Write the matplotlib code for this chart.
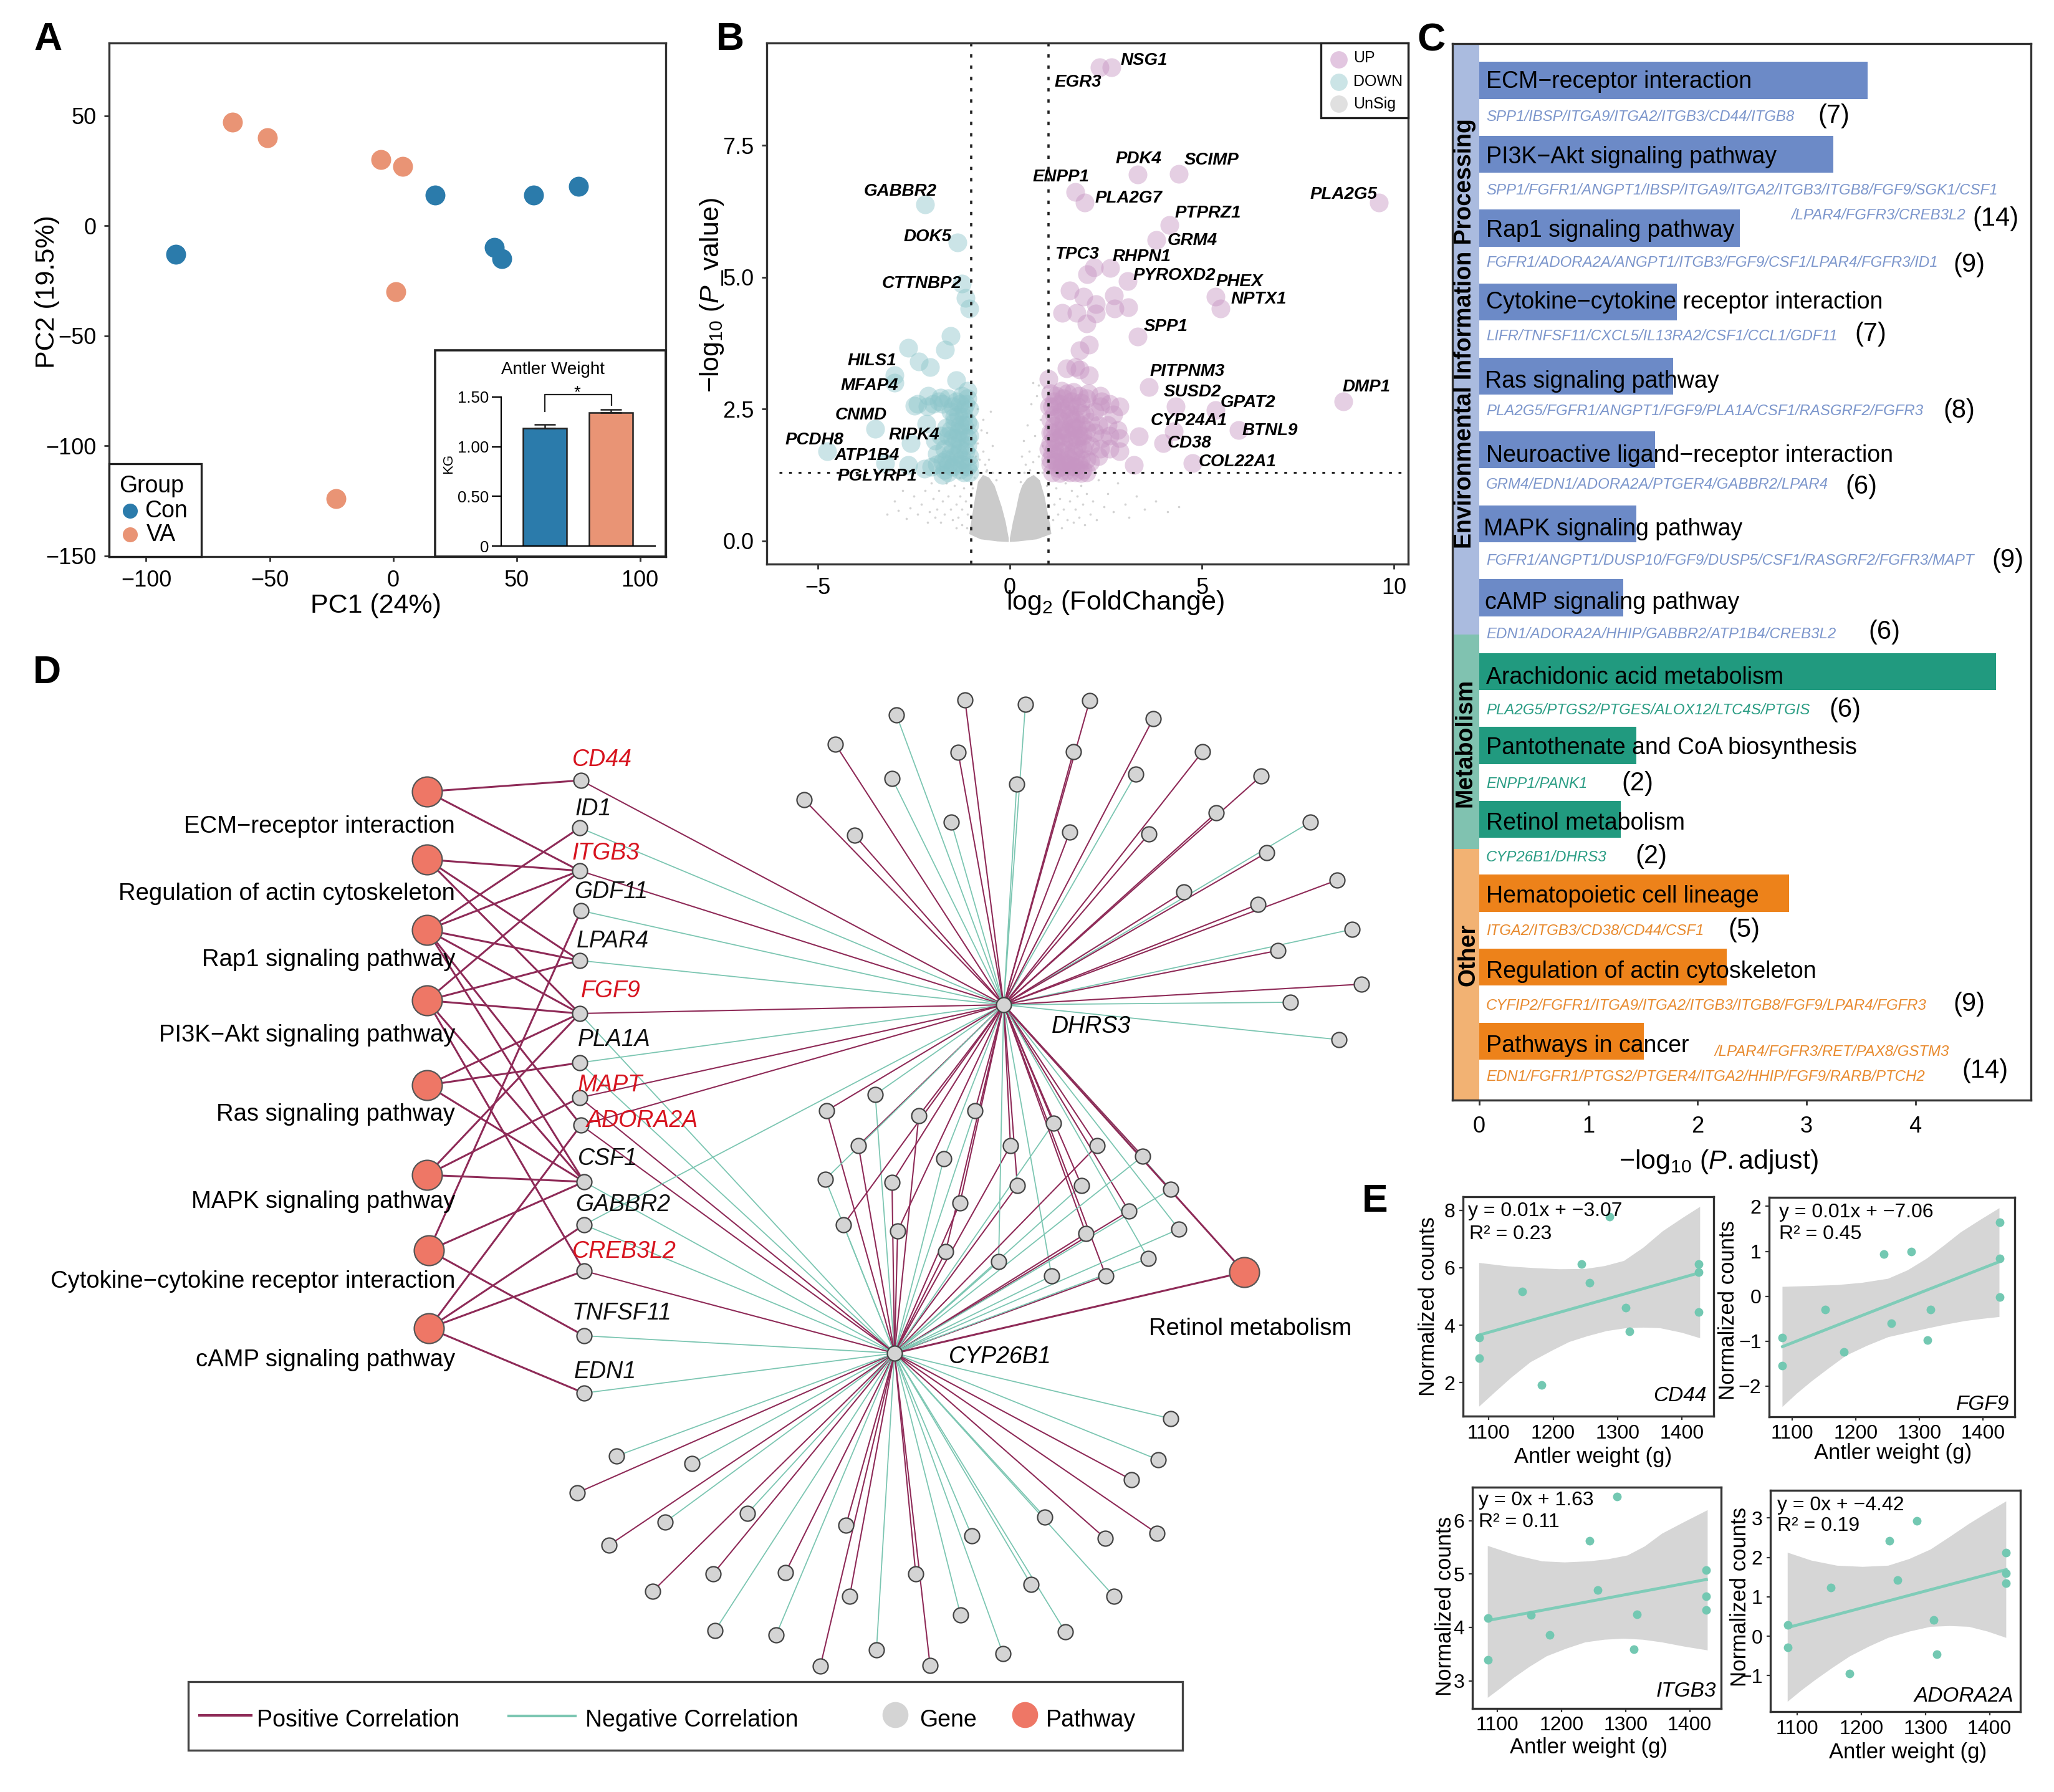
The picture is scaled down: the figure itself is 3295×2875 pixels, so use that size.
# plot.py
import matplotlib
matplotlib.use('Agg')
import numpy as np
import matplotlib.pyplot as plt
from matplotlib.patches import Rectangle

W, H = 3295, 2875

plt.rcParams['font.family'] = ['Liberation Sans', 'DejaVu Sans']
plt.rcParams['mathtext.fontset'] = 'custom'
plt.rcParams['mathtext.rm'] = 'Liberation Sans'
plt.rcParams['mathtext.it'] = 'Liberation Sans:italic'
plt.rcParams['mathtext.bf'] = 'Liberation Sans:bold'
plt.rcParams['mathtext.default'] = 'regular'

BLUE = '#2b7bab'
ORANGE = '#e99475'
POS = '#8e2a57'
NEG = '#7cc6b2'
EDGE = '#333333'

# ---- panel A ----
con_x = [-88, 17, 57, 75, 41, 44]
con_y = [-13, 14, 14, 18, -10, -15]
va_x = [-65, -51, -5, 4, 1, -23]
va_y = [47, 40, 30, 27, -30, -124]
inset_groups = [0, 1]
inset_means = [1.186, 1.34]
inset_errs = [0.04, 0.036]
inset_ticks = [0, 0.5, 1.0, 1.5]
inset_tick_labels = ['0', '0.50', '1.00', '1.50']

# ---- panel B ----
up_names = ['NSG1', 'EGR3', 'PDK4', 'SCIMP', 'ENPP1', 'PLA2G7', 'PLA2G5', 'PTPRZ1', 'GRM4', 'TPC3',
            'RHPN1', 'PYROXD2', 'PHEX', 'NPTX1', 'SPP1', 'PITPNM3', 'SUSD2', 'GPAT2', 'DMP1',
            'CYP24A1', 'BTNL9', 'CD38', 'COL22A1']
up_label_x = [1835, 1729, 1826, 1944, 1702, 1810, 2155, 1938, 1913, 1727,
              1831, 1884, 1988, 2019, 1870, 1905, 1913, 2002, 2192, 1907, 2037, 1908, 1985]
up_label_y = [97, 132, 255, 257, 284, 318, 312, 342, 386, 408,
              412, 442, 452, 480, 524, 596, 629, 646, 621, 675, 691, 711, 741]
down_names = ['GABBR2', 'DOK5', 'CTTNBP2', 'HILS1', 'MFAP4', 'CNMD', 'RIPK4', 'PCDH8', 'ATP1B4', 'PGLYRP1']
down_label_x = [1444, 1488, 1479, 1399, 1395, 1381, 1466, 1306, 1391, 1407]
down_label_y = [307, 380, 455, 579, 619, 666, 698, 706, 731, 764]

up_x = [2.65, 2.33, 3.33, 4.40, 1.71, 1.95, 9.61, 4.15, 3.82, 2.19, 2.01, 2.62, 3.06, 5.35, 5.49,
        1.55, 1.92, 2.71, 2.24, 1.37, 1.74, 2.73, 3.08, 2.24, 1.99, 3.32, 2.06, 1.82, 1.48, 1.71,
        1.82, 2.06, 1.01, 3.62, 8.68, 4.31, 5.35, 4.27, 5.95, 3.99, 4.75, 3.23, 3.36,
        1.05, 1.2, 1.35, 1.5, 1.65, 1.8, 2.0, 1.1, 1.3, 1.45, 1.6, 1.75, 1.95,
        1.05, 1.25, 1.4, 1.55, 1.7, 1.85, 1.1, 1.3, 1.5, 1.65, 1.8, 2.0,
        1.05, 1.2, 1.4, 1.6, 1.75, 1.9, 1.1, 1.3, 1.5, 1.65, 1.85,
        1.05, 1.2, 1.35, 1.5, 1.7, 1.9, 2.0, 1.1, 1.3, 1.55,
        2.35, 2.38, 2.35, 2.2, 2.6, 2.85, 2.7, 2.1, 2.3, 2.55, 2.8, 2.2, 2.4, 2.6, 2.85,
        2.1, 2.35, 2.6, 2.85, 2.3, 2.1, 2.0,
        1.15, 1.4, 1.55, 1.85, 2.05, 1.15, 1.35, 1.6, 1.85, 1.15, 1.4, 1.6, 1.75, 1.9,
        1.15, 1.35, 1.55, 1.75, 1.95, 1.15, 1.45, 1.7, 1.55, 1.2, 1.4, 1.6, 1.8,
        1.25, 1.45, 1.7, 1.85, 1.05, 1.05, 1.02, 1.0]
up_y = [8.98, 8.98, 6.95, 6.96, 6.61, 6.41, 6.41, 5.99, 5.71, 5.19, 5.06, 5.17, 4.92, 4.63, 4.41,
        4.75, 4.63, 4.65, 4.49, 4.32, 4.32, 4.40, 4.43, 4.31, 4.12, 3.87, 3.72, 3.61, 3.27, 3.29,
        3.25, 3.14, 3.07, 2.92, 2.64, 2.55, 2.48, 2.08, 2.10, 1.85, 1.48, 1.44, 1.98,
        2.80, 2.75, 2.85, 2.8, 2.82, 2.75, 2.7, 2.55, 2.6, 2.5, 2.65, 2.55, 2.4,
        2.3, 2.35, 2.25, 2.4, 2.3, 2.2, 2.05, 2.1, 2.05, 2.15, 2.0, 2.1,
        1.85, 1.9, 1.85, 1.9, 1.8, 1.75, 1.65, 1.7, 1.6, 1.7, 1.55,
        1.45, 1.5, 1.4, 1.45, 1.4, 1.35, 1.3, 1.3, 1.28, 1.3,
        2.75, 2.65, 2.55, 2.45, 2.6, 2.55, 2.4, 2.25, 2.2, 2.2, 2.1, 2.05, 1.95, 2.0, 1.95,
        1.8, 1.75, 1.75, 1.7, 1.6, 1.5, 1.55,
        2.65, 2.7, 2.55, 2.62, 2.8, 2.4, 2.45, 2.3, 2.42, 2.18, 2.1, 2.2, 2.12, 2.0,
        1.95, 2.0, 1.95, 1.95, 1.85, 1.75, 1.72, 1.6, 1.55, 1.6, 1.5, 1.42, 1.45,
        1.38, 1.32, 1.3, 1.28, 1.55, 2.05, 2.55, 1.75]
down_x = [-2.20, -1.36, -1.25, -1.15, -1.05, -1.54, -1.69, -2.64, -2.37, -2.07, -3.0, -1.39, -3.0,
          -1.10, -2.13, -1.81, -2.49, -3.5, -4.76, -3.24, -2.58, -2.64, -2.23, -2.17,
          -1.1, -1.25, -1.4, -1.6, -1.75, -1.05, -1.2, -1.35, -1.55, -1.1, -1.3, -1.45, -1.65,
          -1.05, -1.2, -1.4, -1.6, -1.8, -1.95, -1.1, -1.3, -1.5, -1.7, -1.9, -1.05, -1.25, -1.45, -1.65,
          -1.1, -1.3, -1.5, -1.7, -1.9, -2.05, -1.2, -1.6, -1.05, -1.75,
          -1.15, -1.3, -1.5, -1.2, -1.45, -1.05, -1.2, -1.35, -1.55, -1.1, -1.3, -1.5, -1.15,
          -1.35, -1.55, -1.75, -1.05, -1.25, -1.45, -1.6, -2.15, -2.4, -2.0, -1.85]
down_y = [6.38, 5.66, 4.88, 4.61, 4.41, 3.89, 3.62, 3.66, 3.40, 3.30, 3.14, 3.05, 3.0,
          2.85, 2.75, 2.72, 2.56, 2.13, 1.70, 1.48, 1.85, 1.44, 1.37, 2.22,
          2.7, 2.75, 2.65, 2.7, 2.6, 2.5, 2.5, 2.4, 2.45, 2.25, 2.2, 2.25, 2.15,
          2.0, 2.05, 1.95, 2.0, 2.0, 1.9, 1.8, 1.75, 1.8, 1.75, 1.65, 1.6, 1.55, 1.6, 1.55,
          1.4, 1.35, 1.4, 1.35, 1.45, 1.4, 1.3, 1.3, 1.3, 1.25,
          2.6, 2.6, 2.55, 2.35, 2.35, 2.2, 2.2, 2.05, 2.1, 1.95, 1.9, 1.95, 1.7,
          1.65, 1.65, 1.5, 1.45, 1.45, 1.45, 1.45, 2.55, 2.6, 2.6, 2.65]
unsig_left_x = [-0.03, -0.11, -0.21, -0.32, -0.40, -0.54, -0.70, -0.83, -0.91, -0.98, -1.06, -0.76, -0.32, -0.03]
unsig_left_y = [0.05, 0.36, 0.64, 0.88, 1.05, 1.20, 1.25, 1.12, 0.80, 0.48, 0.13, 0.03, -0.01, -0.02]
unsig_right_x = [0, 0.08, 0.16, 0.24, 0.32, 0.45, 0.62, 0.78, 0.90, 0.98, 1.05, 1.08, 0.70, 0.22, 0]
unsig_right_y = [0.05, 0.36, 0.60, 0.88, 1.05, 1.18, 1.25, 1.15, 0.85, 0.55, 0.30, 0.13, 0.03, -0.01, -0.02]
unsig_x = [-1.1, -1.15, -1.2, -1.25, -1.3, -1.35, -1.4, -1.45, -1.5, -1.55, -1.6, -1.65, -1.7, -1.75, -1.8, -1.85,
           -1.9, -1.95, -2.0, -2.1, -2.15, -2.2, -2.3, -2.4, -2.5, -2.6, -2.7, -2.8, -2.9, -3.0, -3.2,
           -1.25, -1.12, -1.4, -2.05, -1.3,
           1.12, 1.15, 1.2, 1.25, 1.3, 1.35, 1.4, 1.45, 1.5, 1.55, 1.6, 1.65, 1.7, 1.75, 1.8, 1.85,
           1.9, 1.95, 2.0, 2.1, 2.15, 2.25, 2.3, 2.45, 2.55, 2.7, 2.8, 3.0, 3.1, 3.3, 3.5, 3.8, 4.1, 4.4,
           -0.95, -0.9, -0.85, -0.8, -0.75, -0.7, -0.65, -0.6, -0.55, -0.5, -0.7, -0.95, -0.85, -0.45, -0.6,
           0.3, 0.35, 0.4, 0.45, 0.5, 0.55, 0.6, 0.65, 0.7, 0.75, 0.8, 0.85, 0.9, 0.95, 0.6, 0.75,
           -0.98, -0.92, -0.62, -0.45, -0.35, 0.28, 0.38, 0.52, 0.85, 0.95]
unsig_y = [0.5, 0.75, 1.0, 0.6, 0.85, 0.45, 0.7, 1.05, 0.4, 0.6, 0.85, 1.1, 0.5, 0.75, 0.35, 0.95,
           0.6, 0.45, 0.8, 0.55, 0.35, 0.95, 0.7, 0.5, 0.85, 0.62, 0.42, 0.95, 0.58, 0.75, 0.5,
           0.3, 0.25, 0.25, 1.1, 1.2,
           0.4, 0.7, 1.0, 0.5, 0.8, 0.25, 0.6, 1.1, 0.4, 0.75, 0.95, 0.35, 0.6, 0.85, 0.45, 1.05,
           0.7, 0.3, 0.9, 0.5, 0.75, 0.4, 1.15, 0.65, 0.9, 0.55, 1.1, 0.7, 0.45, 0.85, 0.6, 0.75, 0.55, 0.65,
           1.35, 1.6, 1.85, 1.55, 2.1, 1.7, 1.45, 2.05, 1.55, 2.45, 2.3, 2.2, 2.5, 1.8, 1.35,
           1.6, 1.9, 1.45, 2.2, 1.7, 2.6, 1.5, 2.0, 2.75, 1.6, 2.3, 1.8, 2.9, 1.5, 3.0, 2.95,
           1.0, 1.2, 1.32, 1.3, 1.15, 1.12, 1.3, 1.35, 1.3, 1.05]
fold_line = 1
p_line = 1.3

# ---- panel C ----
term_names = ['ECM\u2212receptor interaction', 'PI3K\u2212Akt signaling pathway', 'Rap1 signaling pathway',
              'Cytokine\u2212cytokine receptor interaction', 'Ras signaling pathway',
              'Neuroactive ligand\u2212receptor interaction', 'MAPK signaling pathway', 'cAMP signaling pathway',
              'Arachidonic acid metabolism', 'Pantothenate and CoA biosynthesis', 'Retinol metabolism',
              'Hematopoietic cell lineage', 'Regulation of actin cytoskeleton', 'Pathways in cancer']
term_values = [3.56, 3.25, 2.39, 1.81, 1.78, 1.61, 1.44, 1.32, 4.74, 1.44, 1.30, 2.84, 2.27, 1.51]
term_groups = ['env'] * 8 + ['met'] * 3 + ['oth'] * 3
term_label_x = [2384, 2384, 2384, 2384, 2382, 2384, 2380, 2382, 2384, 2384, 2384, 2384, 2384, 2384]
term_label_y = [131, 252, 370, 485, 612, 731, 849, 967, 1087, 1200, 1321, 1438, 1559, 1678]
gene_lists = ['SPP1/IBSP/ITGA9/ITGA2/ITGB3/CD44/ITGB8',
              'SPP1/FGFR1/ANGPT1/IBSP/ITGA9/ITGA2/ITGB3/ITGB8/FGF9/SGK1/CSF1',
              'FGFR1/ADORA2A/ANGPT1/ITGB3/FGF9/CSF1/LPAR4/FGFR3/ID1',
              'LIFR/TNFSF11/CXCL5/IL13RA2/CSF1/CCL1/GDF11',
              'PLA2G5/FGFR1/ANGPT1/FGF9/PLA1A/CSF1/RASGRF2/FGFR3',
              'GRM4/EDN1/ADORA2A/PTGER4/GABBR2/LPAR4',
              'FGFR1/ANGPT1/DUSP10/FGF9/DUSP5/CSF1/RASGRF2/FGFR3/MAPT',
              'EDN1/ADORA2A/HHIP/GABBR2/ATP1B4/CREB3L2',
              'PLA2G5/PTGS2/PTGES/ALOX12/LTC4S/PTGIS',
              'ENPP1/PANK1',
              'CYP26B1/DHRS3',
              'ITGA2/ITGB3/CD38/CD44/CSF1',
              'CYFIP2/FGFR1/ITGA9/ITGA2/ITGB3/ITGB8/FGF9/LPAR4/FGFR3',
              'EDN1/FGFR1/PTGS2/PTGER4/ITGA2/HHIP/FGF9/RARB/PTCH2']
gene_list_y = [187, 305, 422, 540, 660, 778, 900, 1017, 1139, 1258, 1375, 1493, 1614, 1728]
gene_counts = ['(7)', '(14)', '(9)', '(7)', '(8)', '(6)', '(9)', '(6)', '(6)', '(2)', '(2)', '(5)', '(9)', '(14)']
count_x = [2916, 3164, 3133, 2975, 3117, 2960, 3195, 2997, 2934, 2601, 2623, 2772, 3133, 3147]
count_y = [186, 351, 425, 536, 659, 781, 899, 1014, 1139, 1257, 1374, 1492, 1611, 1718]

# ---- panel D ----
pathway_names = ['ECM\u2212receptor interaction', 'Regulation of actin cytoskeleton', 'Rap1 signaling pathway',
                 'PI3K\u2212Akt signaling pathway', 'Ras signaling pathway', 'MAPK signaling pathway',
                 'Cytokine\u2212cytokine receptor interaction', 'cAMP signaling pathway']
pathway_x = [685, 685, 685, 685, 685, 685, 688, 688]
pathway_y = [1270, 1379, 1492, 1605, 1741, 1885, 2006, 2131]
pathway_label_y = [1326, 1434, 1540, 1661, 1788, 1928, 2056, 2182]
pathway_genes = [['CD44', 'ITGB3'],
                 ['ITGB3', 'LPAR4', 'FGF9'],
                 ['ID1', 'ITGB3', 'LPAR4', 'FGF9', 'ADORA2A', 'CSF1'],
                 ['ITGB3', 'LPAR4', 'FGF9', 'CSF1', 'CREB3L2'],
                 ['FGF9', 'PLA1A', 'CSF1'],
                 ['FGF9', 'MAPT', 'CSF1'],
                 ['GDF11', 'CSF1', 'TNFSF11'],
                 ['ADORA2A', 'GABBR2', 'CREB3L2', 'EDN1']]
gene_names = ['CD44', 'ID1', 'ITGB3', 'GDF11', 'LPAR4', 'FGF9', 'PLA1A', 'MAPT', 'ADORA2A', 'CSF1',
              'GABBR2', 'CREB3L2', 'TNFSF11', 'EDN1']
gene_x = [932, 930, 930, 932, 930, 930, 930, 930, 932, 937, 937, 937, 937, 937]
gene_y = [1252, 1328, 1397, 1461, 1541, 1626, 1705, 1761, 1805, 1896, 1965, 2039, 2143, 2235]
gene_label_x = [918, 923, 918, 921, 925, 932, 927, 927, 941, 927, 923, 918, 918, 921]
gene_label_y = [1219, 1298, 1369, 1431, 1510, 1590, 1668, 1741, 1798, 1859, 1933, 2008, 2107, 2201]
red_genes = ['CD44', 'ITGB3', 'FGF9', 'MAPT', 'ADORA2A', 'CREB3L2']
# +1 positive, -1 negative, 0 no edge
gene_dhrs3 = [1, -1, 1, -1, -1, 1, -1, 1, 1, 0, -1, 0, 0, 0]
gene_cyp = [0, 0, 0, 0, 0, -1, -1, 1, 1, -1, -1, 1, -1, -1]

dhrs3_x = [1290, 1340, 1371, 1431, 1438, 1526, 1537, 1548, 1631, 1645, 1716, 1722, 1748, 1822, 1843,
           1850, 1929, 1951, 2023, 2102, 2032, 1899, 2145, 2018, 2169, 2050, 2184, 2070, 2148]
dhrs3_y = [1283, 1194, 1340, 1249, 1147, 1319, 1207, 1123, 1258, 1130, 1335, 1206, 1124, 1242, 1338,
           1153, 1206, 1304, 1245, 1319, 1368, 1431, 1412, 1451, 1491, 1525, 1579, 1608, 1668]
dhrs3_sign = [1, 1, 1, -1, -1, -1, 1, 1, -1, -1, 1, 1, 1, -1, 1,
              1, 1, 1, 1, -1, 1, 1, 1, 1, -1, 1, 1, -1, -1]

mid_x = [1326, 1404, 1377, 1324, 1353, 1474, 1564, 1514, 1431, 1440, 1540, 1517, 1621, 1632, 1690,
         1602, 1687, 1760, 1735, 1742, 1774, 1811, 1833, 1878, 1891, 1842]
mid_y = [1782, 1756, 1838, 1892, 1965, 1790, 1782, 1859, 1897, 1975, 1930, 2008, 1838, 1902, 1802,
         2024, 2047, 1838, 1902, 1979, 2047, 1943, 1855, 1908, 1972, 2019]
mid_dhrs3_sign = [1, -1, 1, -1, 1, 1, 1, -1, 1, 1, 1, 1, 1, 1, 1,
                  -1, -1, 1, 1, 1, 1, 1, 1, -1, -1, -1]
mid_cyp_sign = [1, -1, 1, -1, -1, 1, -1, -1, 1, 1, 1, 1, 1, 1, -1,
                -1, -1, 1, -1, 1, 1, 1, -1, -1, -1, -1]

cyp_x = [1878, 1858, 1815, 1856, 1773, 1676, 1787, 1559, 1654, 1709, 1541, 1609, 1469, 1492, 1406,
         1363, 1316, 1357, 1260, 1245, 1147, 1144, 1047, 1199, 1067, 977, 1110, 926, 989]
cyp_y = [2276, 2342, 2374, 2460, 2468, 2434, 2561, 2464, 2542, 2618, 2591, 2653, 2525, 2672, 2647,
         2561, 2673, 2447, 2523, 2623, 2616, 2525, 2553, 2428, 2442, 2479, 2348, 2395, 2336]
cyp_sign = [-1, -1, 1, 1, 1, -1, -1, -1, -1, -1, -1, -1, 1, 1, -1,
            1, 1, 1, 1, -1, -1, 1, 1, -1, -1, 1, -1, 1, -1]

# ---- panel E ----
weights = [1085, 1085, 1152, 1182, 1244, 1256, 1287, 1313, 1318, 1426, 1426, 1426]
line_x = [1085, 1426]

cd44_y = [2.85, 3.58, 5.18, 1.93, 6.13, 5.47, 7.78, 4.61, 3.79, 6.13, 5.84, 4.46]
cd44_line = [3.66, 5.82]
cd44_up_x = [1085, 1130, 1170, 1210, 1250, 1280, 1310, 1340, 1370, 1400, 1428]
cd44_up = [6.17, 6.05, 5.99, 5.95, 5.96, 6.06, 6.24, 6.70, 7.27, 7.72, 8.12]
cd44_lo_x = [1085, 1110, 1135, 1165, 1200, 1225, 1253, 1283, 1313, 1340, 1366, 1400, 1428]
cd44_lo = [1.17, 1.68, 2.18, 2.72, 3.14, 3.42, 3.62, 3.80, 3.90, 3.92, 3.90, 3.74, 3.55]

fgf9_y = [-1.54, -0.92, -0.29, -1.24, 0.94, -0.60, 0.99, -0.98, -0.29, 1.64, 0.84, -0.02]
fgf9_line = [-1.12, 0.77]
fgf9_up_x = [1085, 1130, 1171, 1210, 1251, 1282, 1312, 1340, 1365, 1396, 1426]
fgf9_up = [0.21, 0.23, 0.25, 0.30, 0.39, 0.58, 0.84, 1.14, 1.42, 1.70, 1.96]
fgf9_lo_x = [1085, 1108, 1131, 1158, 1185, 1218, 1251, 1285, 1318, 1345, 1372, 1400, 1426]
fgf9_lo = [-2.46, -2.16, -1.89, -1.60, -1.32, -1.10, -0.91, -0.80, -0.70, -0.62, -0.55, -0.50, -0.46]

itgb3_y = [3.39, 4.17, 4.23, 3.86, 5.63, 4.70, 6.45, 3.59, 4.24, 5.08, 4.59, 4.33]
itgb3_line = [4.13, 4.90]
itgb3_up_x = [1085, 1130, 1170, 1205, 1243, 1273, 1303, 1330, 1357, 1392, 1428]
itgb3_up = [5.53, 5.35, 5.24, 5.22, 5.24, 5.28, 5.35, 5.52, 5.76, 5.98, 6.20]
itgb3_lo_x = [1085, 1105, 1125, 1150, 1177, 1207, 1237, 1267, 1297, 1327, 1357, 1392, 1428]
itgb3_lo = [2.68, 2.86, 3.05, 3.26, 3.46, 3.60, 3.72, 3.77, 3.79, 3.77, 3.72, 3.64, 3.57]

adora_y = [-0.28, 0.29, 1.24, -0.94, 2.42, 1.43, 2.92, 0.42, -0.45, 2.12, 1.60, 1.34]
adora_line = [0.22, 1.69]
adora_up_x = [1085, 1122, 1162, 1202, 1242, 1275, 1308, 1338, 1368, 1397, 1426]
adora_up = [2.12, 1.92, 1.79, 1.76, 1.79, 1.96, 2.20, 2.52, 2.85, 3.14, 3.42]
adora_lo_x = [1085, 1106, 1128, 1155, 1182, 1212, 1242, 1275, 1308, 1338, 1368, 1397, 1426]
adora_lo = [-1.66, -1.38, -1.11, -0.80, -0.51, -0.26, -0.04, 0.12, 0.24, 0.26, 0.24, 0.12, -0.04]


def axes_px(fig, left, top, right, bottom, **kwargs):
    """Axes from a pixel box measured from the top left of the figure."""
    return fig.add_axes([left / W, 1 - bottom / H, (right - left) / W, (bottom - top) / H], **kwargs)


def style_spines(ax, lw=2.4, color=EDGE):
    for spine in ax.spines.values():
        spine.set_linewidth(lw)
        spine.set_color(color)


def draw_panel_a(fig, ov):
    ax = axes_px(fig, 175, 69, 1068, 893)
    ax.scatter(con_x, con_y, s=530, color=BLUE, linewidths=0)
    ax.scatter(va_x, va_y, s=530, color=ORANGE, linewidths=0)
    ax.set_xlim(-115, 110.4)
    ax.set_ylim(-150.3, 83)
    ax.set_xticks([-100, -50, 0, 50, 100])
    ax.set_yticks([-150, -100, -50, 0, 50])
    ax.tick_params(labelsize=26, length=6, width=2, pad=9, color=EDGE)
    style_spines(ax)
    ov.text(603, 972, 'PC1 (24%)', fontsize=31, ha='center', va='center')
    ov.text(76, 468, 'PC2 (19.5%)', fontsize=31, ha='center', va='center', rotation=90)

    # legend box
    ov.add_patch(Rectangle((175, 744), 148, 149, fc='white', ec='#222222', lw=2.4))
    ov.text(191, 780, 'Group', fontsize=27, va='center')
    ov.scatter([209, 209], [820, 858], s=300, color=[BLUE, ORANGE], linewidths=0)
    ov.text(232, 820, 'Con', fontsize=27, va='center')
    ov.text(235, 858, 'VA', fontsize=27, va='center')

    # bar inset
    ov.add_patch(Rectangle((698, 562), 370, 331, fc='white', ec='#222222', lw=2.6))
    ins = axes_px(fig, 804, 637, 1051, 876, zorder=6)
    ins.patch.set_alpha(0)
    ins.bar(inset_groups, inset_means, width=0.66, color=[BLUE, ORANGE], edgecolor='#222222', linewidth=1.8,
            yerr=[[0, 0], inset_errs], error_kw={'ecolor': '#222222', 'elinewidth': 1.8, 'capsize': 12, 'capthick': 1.8})
    ins.set_xlim(-0.66, 1.67)
    ins.set_ylim(0, 1.5)
    ins.set_xticks([])
    ins.set_yticks(inset_ticks)
    ins.set_yticklabels(inset_tick_labels)
    ins.tick_params(labelsize=18.5, length=11, width=1.6, pad=3)
    ins.spines['top'].set_visible(False)
    ins.spines['right'].set_visible(False)
    ins.spines['left'].set_linewidth(1.6)
    ins.spines['bottom'].set_linewidth(1.6)
    ov.text(887, 593, 'Antler Weight', fontsize=20, ha='center', va='center', zorder=7)
    ov.text(926, 630, '*', fontsize=20, ha='center', va='center', zorder=7)
    ov.text(720, 744, 'KG', fontsize=16, ha='center', va='center', rotation=90, zorder=7)
    ov.plot([874, 874, 981, 981], [660, 633, 633, 650], color='#222222', lw=1.6, zorder=7)


def draw_panel_b(fig, ov):
    ax = axes_px(fig, 1230, 69, 2259, 905)
    ax.fill(unsig_left_x, unsig_left_y, color='#cbcbcb', lw=0)
    ax.fill(unsig_right_x, unsig_right_y, color='#cbcbcb', lw=0)
    ax.scatter(unsig_x, unsig_y, s=7, color='#d2d2d2', linewidths=0)
    ax.scatter(up_x, up_y, s=470, color='#c795c3', alpha=0.45, linewidths=0)
    ax.scatter(down_x, down_y, s=470, color='#8cc5ca', alpha=0.45, linewidths=0)
    ax.axvline(-fold_line, color='#222222', lw=2.6, ls=(0, (1.5, 3.5)))
    ax.axvline(fold_line, color='#222222', lw=2.6, ls=(0, (1.5, 3.5)))
    ax.plot([-6, 10.37], [p_line, p_line], color='#222222', lw=2.2, ls=(0, (1.5, 3.5)))
    ax.set_xlim(-6.33, 10.37)
    ax.set_ylim(-0.44, 9.44)
    ax.set_xticks([-5, 0, 5, 10])
    ax.set_yticks([0, 2.5, 5, 7.5])
    ax.tick_params(labelsize=26, length=6, width=2, pad=9, color=EDGE)
    style_spines(ax)
    ov.text(1789, 967, r'$\mathrm{log_{2}\ (FoldChange)}$', fontsize=31, ha='center', va='center')
    ov.text(1142, 474, r'$\mathrm{-log_{10}\ (}\mathit{P}\mathrm{\_value)}$', fontsize=31,
            ha='center', va='center', rotation=90)

    for name, x, y in zip(up_names + down_names, up_label_x + down_label_x, up_label_y + down_label_y):
        ov.text(x, y, name, fontsize=20, style='italic', weight='bold', ha='center', va='center')

    ov.add_patch(Rectangle((2119, 69), 140, 120, fc='white', ec='#222222', lw=2.4))
    ov.scatter([2148, 2148, 2148], [96, 132, 167], s=400, linewidths=0,
               color=['#e2c6e0', '#cbe4e6', '#e0e0e0'])
    for y, label in zip([93, 131, 167], ['UP', 'DOWN', 'UnSig']):
        ov.text(2171, y, label, fontsize=18, va='center')


def draw_panel_c(fig, ov):
    ax = axes_px(fig, 2330, 70, 3258, 1765)
    bar_colors = {'env': '#6c8ac7', 'met': '#219a7f', 'oth': '#ed821a'}
    text_colors = {'env': '#7c96cc', 'met': '#2a9d84', 'oth': '#e88a2e'}
    rows = np.arange(len(term_names))
    ax.barh(rows, term_values, height=0.5, color=[bar_colors[g] for g in term_groups])
    ax.set_xlim(-0.246, 5.06)
    ax.set_ylim(13.8, -0.498)
    ax.axvspan(-0.246, 0, ymin=1 - (7.5 + 0.498) / 14.298, ymax=1, color='#aabbdf', lw=0)
    ax.axvspan(-0.246, 0, ymin=1 - (10.4 + 0.498) / 14.298, ymax=1 - (7.5 + 0.498) / 14.298, color='#80c2b0', lw=0)
    ax.axvspan(-0.246, 0, ymin=0, ymax=1 - (10.4 + 0.498) / 14.298, color='#f2b273', lw=0)
    ax.set_yticks([])
    ax.set_xticks([0, 1, 2, 3, 4])
    ax.tick_params(labelsize=26, length=6, width=2, pad=12, color=EDGE)
    style_spines(ax)
    ov.text(2757, 1864, r'$\mathrm{-log_{10}\ (}\mathit{P}\mathrm{.adjust)}$', fontsize=31, ha='center', va='center')

    for i, name in enumerate(term_names):
        ov.text(term_label_x[i], term_label_y[i], name, fontsize=27, va='center')
        ov.text(2384, gene_list_y[i], gene_lists[i], fontsize=17.3, style='italic',
                color=text_colors[term_groups[i]], va='center')
        ov.text(count_x[i], count_y[i], gene_counts[i], fontsize=30, va='center')
    ov.text(2873, 345, '/LPAR4/FGFR3/CREB3L2', fontsize=17.3, style='italic',
            color=text_colors['env'], va='center')
    ov.text(2750, 1688, '/LPAR4/FGFR3/RET/PAX8/GSTM3', fontsize=17.3, style='italic',
            color=text_colors['oth'], va='center')

    ov.text(2350, 535, 'Environmental Information Processing', fontsize=27, weight='bold',
            rotation=90, ha='center', va='center')
    ov.text(2350, 1192, 'Metabolism', fontsize=27, weight='bold', rotation=90, ha='center', va='center')
    ov.text(2355, 1532, 'Other', fontsize=27, weight='bold', rotation=90, ha='center', va='center')


def edge(ov, x0, y0, x1, y1, sign, lw_pos=1.5, lw_neg=1.3):
    color = POS if sign > 0 else NEG
    ov.plot([x0, x1], [y0, y1], color=color, lw=lw_pos if sign > 0 else lw_neg, zorder=2,
            solid_capstyle='round')


def draw_panel_d(ov):
    dhrs3 = (1610, 1612)
    cyp = (1435, 2171)
    retinol = (1996, 2041)

    for i, genes in enumerate(pathway_genes):
        for gene in genes:
            j = gene_names.index(gene)
            edge(ov, pathway_x[i], pathway_y[i], gene_x[j], gene_y[j], 1, lw_pos=2.2)
    for j, gene in enumerate(gene_names):
        if gene_dhrs3[j]:
            edge(ov, gene_x[j], gene_y[j], dhrs3[0], dhrs3[1], gene_dhrs3[j])
        if gene_cyp[j]:
            edge(ov, gene_x[j], gene_y[j], cyp[0], cyp[1], gene_cyp[j])
    for x, y, s in zip(dhrs3_x, dhrs3_y, dhrs3_sign):
        edge(ov, x, y, dhrs3[0], dhrs3[1], s)
    for x, y, s, s2 in zip(mid_x, mid_y, mid_dhrs3_sign, mid_cyp_sign):
        edge(ov, x, y, dhrs3[0], dhrs3[1], s)
        edge(ov, x, y, cyp[0], cyp[1], s2)
    for x, y, s in zip(cyp_x, cyp_y, cyp_sign):
        edge(ov, x, y, cyp[0], cyp[1], s)
    edge(ov, retinol[0], retinol[1], dhrs3[0], dhrs3[1], 1, lw_pos=2.2)
    edge(ov, retinol[0], retinol[1], cyp[0], cyp[1], 1, lw_pos=2.2)

    node_x = gene_x + dhrs3_x + mid_x + cyp_x + [dhrs3[0], cyp[0]]
    node_y = gene_y + dhrs3_y + mid_y + cyp_y + [dhrs3[1], cyp[1]]
    ov.scatter(node_x, node_y, s=300, color='#d4d4d4', edgecolors='#444444', linewidths=1.6, zorder=3)
    ov.scatter(pathway_x + [retinol[0]], pathway_y + [retinol[1]], s=1190, color='#ee7766',
               edgecolors='#555555', linewidths=1.6, zorder=3)

    for name, y in zip(pathway_names, pathway_label_y):
        ov.text(730, y, name, fontsize=27.5, ha='right', va='center', zorder=4)
    for name, x, y in zip(gene_names, gene_label_x, gene_label_y):
        color = '#d7141f' if name in red_genes else '#111111'
        ov.text(x, y, name, fontsize=27, style='italic', color=color, va='center', zorder=4)
    ov.text(1687, 1647, 'DHRS3', fontsize=27, style='italic', va='center', zorder=4)
    ov.text(1522, 2177, 'CYP26B1', fontsize=27, style='italic', va='center', zorder=4)
    ov.text(2006, 2132, 'Retinol metabolism', fontsize=27.5, ha='center', va='center', zorder=4)

    # legend
    ov.add_patch(Rectangle((302, 2698), 1595, 110, fc='none', ec='#444444', lw=2.4))
    ov.plot([320, 403], [2752, 2752], color=POS, lw=3)
    ov.plot([816, 923], [2753, 2753], color=NEG, lw=3)
    ov.text(412, 2760, 'Positive Correlation', fontsize=27, va='center')
    ov.text(939, 2760, 'Negative Correlation', fontsize=27, va='center')
    ov.scatter([1436], [2751], s=900, color='#d4d4d4', linewidths=0)
    ov.scatter([1644], [2751], s=900, color='#ee7766', linewidths=0)
    ov.text(1475, 2760, 'Gene', fontsize=27, va='center')
    ov.text(1678, 2760, 'Pathway', fontsize=27, va='center')


def draw_scatter(fig, ov, box, xlim, ylim, yticks, y, line, up_x_, up, lo_x, lo, eq, eq_xy, r2, r2_xy,
                 gene, gene_xy, xlabel_xy, ylabel_xy):
    ax = axes_px(fig, *box)
    ax.fill(up_x_ + lo_x[::-1], up + lo[::-1], color='#d6d6d6', lw=0)
    ax.plot(line_x, line, color='#7fccb8', lw=3.4)
    ax.scatter(weights, y, s=100, color='#73c8b2', linewidths=0, zorder=3)
    ax.set_xlim(*xlim)
    ax.set_ylim(*ylim)
    ax.set_xticks([1100, 1200, 1300, 1400])
    ax.set_yticks(yticks)
    ax.tick_params(labelsize=23, length=4, width=1.6, pad=5, color=EDGE)
    style_spines(ax)
    ov.text(eq_xy[0], eq_xy[1], eq, fontsize=23, va='center')
    ov.text(r2_xy[0], r2_xy[1], r2, fontsize=23, va='center')
    ov.text(gene_xy[0], gene_xy[1], gene, fontsize=24, style='italic', ha='right', va='center')
    ov.text(xlabel_xy[0], xlabel_xy[1], 'Antler weight (g)', fontsize=25, ha='center', va='center')
    ov.text(ylabel_xy[0], ylabel_xy[1], 'Normalized counts', fontsize=25, rotation=90, ha='center', va='center')


def draw_panel_e(fig, ov):
    draw_scatter(fig, ov, (2347, 1920, 2749, 2272), (1060, 1449), (0.84, 8.47), [2, 4, 6, 8],
                 cd44_y, cd44_line, cd44_up_x, cd44_up, cd44_lo_x, cd44_lo,
                 'y = 0.01x + \u22123.07', (2355, 1943), 'R\u00b2 = 0.23', (2357, 1980),
                 'CD44', (2738, 2239), (2556, 2337), (2291, 2096))
    draw_scatter(fig, ov, (2838, 1921, 3232, 2273), (1064, 1450), (-2.68, 2.2), [-2, -1, 0, 1, 2],
                 fgf9_y, fgf9_line, fgf9_up_x, fgf9_up, fgf9_lo_x, fgf9_lo,
                 'y = 0.01x + \u22127.06', (2854, 1945), 'R\u00b2 = 0.45', (2854, 1980),
                 'FGF9', (3223, 2254), (3037, 2331), (2772, 2102))
    draw_scatter(fig, ov, (2362, 2386, 2761, 2741), (1061, 1449), (2.48, 6.63), [3, 4, 5, 6],
                 itgb3_y, itgb3_line, itgb3_up_x, itgb3_up, itgb3_lo_x, itgb3_lo,
                 'y = 0x + 1.63', (2372, 2407), 'R\u00b2 = 0.11', (2372, 2442),
                 'ITGB3', (2753, 2713), (2549, 2803), (2318, 2577))
    draw_scatter(fig, ov, (2840, 2391, 3241, 2746), (1058, 1448), (-1.91, 3.7), [-1, 0, 1, 2, 3],
                 adora_y, adora_line, adora_up_x, adora_up, adora_lo_x, adora_lo,
                 'y = 0x + \u22124.42', (2851, 2415), 'R\u00b2 = 0.19', (2851, 2448),
                 'ADORA2A', (3230, 2721), (3061, 2812), (2791, 2562))


def main():
    fig = plt.figure(figsize=(W / 100, H / 100), dpi=100, facecolor='white')

    # overlay in figure pixels for free text, boxes and the network
    ov = fig.add_axes([0, 0, 1, 1], zorder=5)
    ov.set_xlim(0, W)
    ov.set_ylim(H, 0)
    ov.axis('off')
    ov.patch.set_alpha(0)

    draw_panel_a(fig, ov)
    draw_panel_b(fig, ov)
    draw_panel_c(fig, ov)
    draw_panel_d(ov)
    draw_panel_e(fig, ov)

    ov.set_xlim(0, W)
    ov.set_ylim(H, 0)

    for letter, x, y in [('A', 54, 64), ('B', 1149, 64), ('C', 2273, 65), ('D', 53, 1080), ('E', 2185, 1927)]:
        ov.text(x, y, letter, fontsize=45, weight='bold', va='center')

    fig.savefig('out.png', dpi=100)


if __name__ == '__main__':
    main()
